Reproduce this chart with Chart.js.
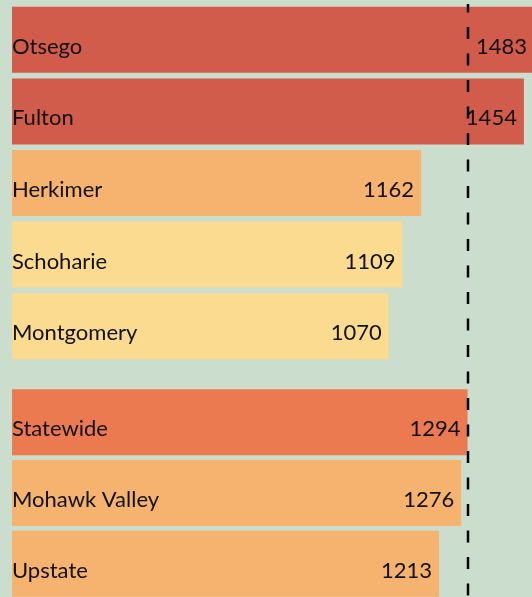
<!DOCTYPE html>
<html>
<head>
<meta charset="utf-8">
<script src="https://cdn.jsdelivr.net/npm/chart.js@4"></script>
<style>
html, body { margin: 0; padding: 0; background: #cbddcc; width: 532px; height: 597px; overflow: hidden; position: relative; }
.box { position: absolute; left: 0; width: 532px; }
#boxTop { top: 4px; height: 358px; }
#boxBottom { top: 362px; height: 237px; }
</style>
</head>
<body>
<div class="box" id="boxTop"><canvas id="chartTop"></canvas></div>
<div class="box" id="boxBottom"><canvas id="chartBottom"></canvas></div>
<script>
// counties
const counties = ['Otsego', 'Fulton', 'Herkimer', 'Schoharie', 'Montgomery'];
const countyValues = [1483, 1454, 1162, 1109, 1070];
const countyColors = ['#d15c4b', '#d15c4b', '#f5b36f', '#fbdb8f', '#fbdb8f'];

// comparison areas
const regions = ['Statewide', 'Mohawk Valley', 'Upstate'];
const regionValues = [1294, 1276, 1213];
const regionColors = ['#ec7a50', '#f5b36f', '#f5b36f'];

const axisMax = 1477;
const statewide = regionValues[regions.indexOf('Statewide')];
const labelFont = '22px Lato';

const barLabels = {
    id: 'barLabels',
    afterDatasetsDraw(chart) {
        const ctx = chart.ctx;
        const meta = chart.getDatasetMeta(0);
        const left = chart.scales.x.getPixelForValue(0);
        ctx.save();
        ctx.font = labelFont;
        ctx.fillStyle = '#111';
        ctx.textBaseline = 'alphabetic';
        meta.data.forEach((bar, i) => {
            const y = bar.y + 14;
            ctx.textAlign = 'left';
            ctx.fillText(chart.data.labels[i], left, y);
            ctx.textAlign = 'right';
            ctx.fillText(String(chart.data.datasets[0].data[i]), bar.x - 7, y);
        });
        ctx.restore();
    }
};

const dashedLine = {
    id: 'dashedLine',
    afterDraw(chart) {
        const ctx = chart.ctx;
        const x = Math.round(chart.scales.x.getPixelForValue(statewide));
        const top = chart.canvas.parentNode.offsetTop;
        ctx.save();
        ctx.strokeStyle = '#000';
        ctx.lineWidth = 2.5;
        ctx.setLineDash([12, 14.5]);
        ctx.lineDashOffset = (top - 0.5) % 26.5;
        ctx.beginPath();
        ctx.moveTo(x, 0);
        ctx.lineTo(x, chart.height);
        ctx.stroke();
        ctx.restore();
    }
};

const makeChart = (id, labels, values, colors, catPct, padTop) => {
    const ctx = document.getElementById(id).getContext('2d');
    return new Chart(ctx, {
        type: 'bar',
        data: {
            labels: labels,
            datasets: [{
                data: values,
                backgroundColor: colors,
                borderWidth: 0,
                barPercentage: 1,
                categoryPercentage: catPct
            }]
        },
        options: {
            indexAxis: 'y',
            responsive: true,
            maintainAspectRatio: false,
            animation: false,
            layout: { padding: { left: 12, right: 0, top: padTop, bottom: 0 } },
            plugins: { legend: { display: false }, tooltip: { enabled: false } },
            scales: {
                x: { display: false, min: 0, max: axisMax },
                y: { display: false }
            }
        },
        plugins: [barLabels, dashedLine]
    });
};

const chartTop = makeChart('chartTop', counties, countyValues, countyColors, 0.922, 0);
const chartBottom = makeChart('chartBottom', regions, regionValues, regionColors, 0.934, 25);
</script>
</body>
</html>
